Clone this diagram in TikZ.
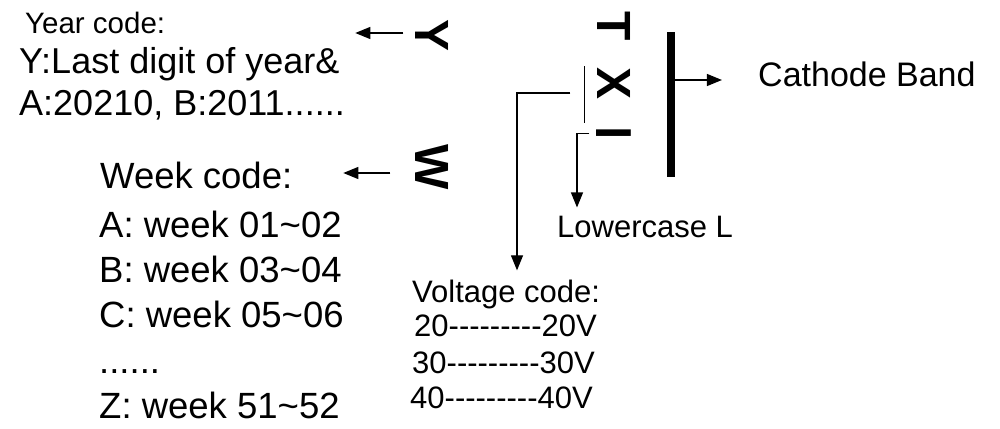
\documentclass[tikz,border=0pt]{standalone}
\usepackage{fontspec}
\setmainfont{Liberation Sans}
\usetikzlibrary{arrows.meta}
\newcommand\hy{\mbox{-}}

\begin{document}
\begin{tikzpicture}[x=1pt,y=-1pt,
  txt/.style={anchor=base west,inner sep=0pt,font=\fontsize{#1}{#1}\selectfont},
  letter/.style={rotate=-90,inner sep=0pt,font=\fontsize{48}{48}\selectfont\bfseries},
  conn/.style={line width=1.2pt},
  arr/.style={conn,-{Triangle[length=15pt,width=12pt]}}]
\useasboundingbox (0,0) rectangle (1000,428);
% marking on the part
\node [letter] (ylet) at (432,36) {Y};
\node [letter] (wlet) at (432,167.5) {W};
\node [letter] (tlet) at (614,26.5) {T};
\node [letter] (xlet) at (614,83.5) {X};
\node [letter] (llet) at (614,133.5) {l};
\node [fill,inner sep=0pt,minimum width=7.5pt,minimum height=145pt] (band) at (671,104.5) {};
% texts
\node [txt=29.5] (yhead) at (25,34) {Year code:};
\node [txt=36] (yl1) at (19,74) {Y:Last digit of year\&};
\node [txt=36] (yl2) at (19,115) {A:20210, B:2011......};
\node [txt=36.5] (whead) at (100,188) {Week code:};
\node [txt=36.5] (wa) at (99,237) {A: week 01\textasciitilde02};
\node [txt=36.5] (wb) at (99,282) {B: week 03\textasciitilde04};
\node [txt=36.5] (wc) at (99,327) {C: week 05\textasciitilde06};
\node [txt=36.5] (wd) at (99,373) {......};
\node [txt=36.5] (wz) at (99,418) {Z: week 51\textasciitilde52};
\node [txt=31] (vhead) at (412,302) {Voltage code:};
\node [txt=31] (v20) at (414,336) {20\hy\hy\hy\hy\hy\hy\hy\hy\hy20V};
\node [txt=31] (v30) at (412,373) {30\hy\hy\hy\hy\hy\hy\hy\hy\hy30V};
\node [txt=31] (v40) at (410,408) {40\hy\hy\hy\hy\hy\hy\hy\hy\hy40V};
\node [txt=31] (lowc) at (557,237) {Lowercase L};
\node [txt=34] (cband) at (758,86) {Cathode Band};
% arrows
\draw [arr] ([shift={(-12,-3)}]ylet.south) -- ++(-48,0);
\draw [arr] ([shift={(-25,5.5)}]wlet.south) -- ++(-47,0);
\draw [arr] ([yshift=24.5pt]band.east) -- ++(47,0);
\draw [conn] ([shift={(-13,-17.5)}]xlet.south) -- ++(0,57);
\draw [arr] ([shift={(-27,9.5)}]xlet.south) -| ([shift={(105,-9)}]vhead.north west);
\draw [arr] ([shift={(-7,0)}]llet.south) -- ++(-12,0) -| ([shift={(20,-8)}]lowc.north west);
\end{tikzpicture}
\end{document}
